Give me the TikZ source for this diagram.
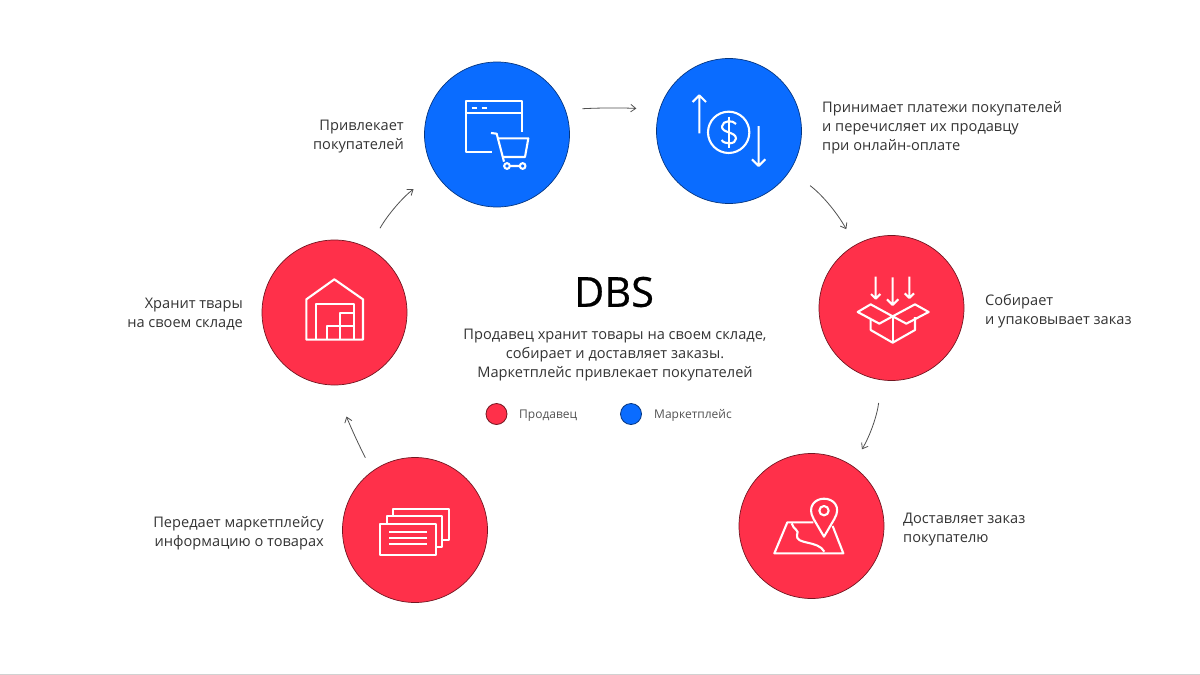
\documentclass[tikz,border=0pt]{standalone}
\usepackage{fontspec}
\setmainfont{Open Sans}
\usepackage{tikz}
\usetikzlibrary{arrows.meta, positioning, calc}
\definecolor{mRed}{HTML}{FF304A}
\definecolor{mBlue}{HTML}{0A6CFF}
\definecolor{mInk}{HTML}{333333}
\definecolor{mFlow}{HTML}{505050}
\begin{document}
\begin{tikzpicture}[x=1pt, y=-1pt, >={Straight Barb[length=5pt,width=7.5pt]},
      stage/.style={circle, minimum size=145pt, inner sep=0pt, draw=black!55!mRed, line width=0.7pt, fill=mRed},
      netstage/.style={stage, draw=black!50!mBlue, fill=mBlue},
      dot/.style={circle, minimum size=21pt, inner sep=0pt, draw=black!55!mRed, line width=0.8pt, fill=mRed},
      netdot/.style={dot, draw=black!50!mBlue, fill=mBlue},
      icon/.style={draw=white, line width=2.1pt, line join=round},
      flow/.style={->, draw=mFlow, line width=0.8pt},
      lbl/.style={text=mInk, font=\fontsize{14.6}{19}\selectfont, inner sep=0pt},
      key/.style={text=mInk!85, font=\fontsize{12}{15}\selectfont, inner sep=0pt, anchor=west}]
    \useasboundingbox (0,0) rectangle (1200,675);
    \fill[black!18] (0,674) rectangle (1200,675);
    % stages
    \node[netstage] (buy) at (497,134.5) {};
    \node[netstage] (pay) at (729,131) {};
    \node[stage] (pack) at (891.5,308) {};
    \node[stage] (ship) at (811.5,526) {};
    \node[stage] (info) at (415,530) {};
    \node[stage] (store) at (334.5,312.5) {};
    % connectors
    \draw[flow, shorten <=17pt, shorten >=23pt] (buy.20) to[bend left=3] (pay.163);
    \draw[flow, shorten <=25pt, shorten >=18pt] (pay.-33) to[bend left=12] (pack.120);
    \draw[flow, shorten <=23pt, shorten >=19pt] (pack.-98) to[bend left=12] (ship.56);
    \draw[flow, shorten <=15pt, shorten >=33pt] (info.126) to[bend left=4] (store.-89);
    \draw[flow, shorten <=23pt, shorten >=27pt] (store.62) to[bend left=12] (buy.-148);
    % labels
    \node[lbl, align=right, anchor=east] (buyText) at (404,137) {Привлекает\\покупателей};
    \node[lbl, align=left, anchor=west] (payText) at (822,128) {Принимает платежи покупателей\\и перечисляет их продавцу\\при онлайн-оплате};
    \node[lbl, align=left, anchor=west] (packText) at (985,311) {Собирает\\и упаковывает заказ};
    \node[lbl, align=left, anchor=west] (shipText) at (903,530) {Доставляет заказ\\покупателю};
    \node[lbl, align=right, anchor=east] (infoText) at (324,533) {Передает маркетплейсу\\информацию о товарах};
    \node[lbl, align=right, anchor=east] (storeText) at (243,314) {Хранит твары\\на своем складе};
    % centre
    \node[text=black, font=\fontsize{41.5}{44}\selectfont\addfontfeature{FakeBold=0.5}, inner sep=0pt] (title) at (614,292) {DBS};
    \node[lbl, align=center] (about) at (615,355) {Продавец хранит товары на своем складе,\\собирает и доставляет заказы.\\Маркетплейс привлекает покупателей};
    \node[dot] (sellerDot) at (496.5,414) {};
    \node[key] (sellerKey) at (519,415.5) {Продавец};
    \node[netdot] (marketDot) at (631,414) {};
    \node[key] (marketKey) at (654,415.5) {Маркетплейс};
    % window and cart
    \begin{scope}[shift={(420,60)}, scale=1/3]
      \draw[icon] (305,215) -- (305,123) -- (137,123) -- (137,275) -- (215,275);
      \draw[icon] (137,160) -- (305,160);
      \draw[icon] (155,143) -- (170,143) (185,143) -- (200,143);
      \draw[icon] (213,219) -- (230,221) -- (252,305);
      \draw[icon] (234,235) -- (325,235) -- (315,291) -- (248,291);
      \draw[icon] (261,318) circle (8.5) (308,318) circle (8.5) (270,318) -- (299,318);
    \end{scope}
    % money
    \begin{scope}[shift={(650,60)}, scale=1/3]
      \draw[icon] (148,220) -- (148,106) (128,126) -- (148,106) -- (168,126);
      \draw[icon] (236,217) circle (62);
      \draw[icon] (236,170) -- (236,264);
      \draw[icon] (258,192) .. controls (250,180) and (218,180) .. (216,199) .. controls (214,220) and (258,214) .. (258,236) .. controls (258,254) and (222,254) .. (215,240);
      \draw[icon] (326,198) -- (326,318) (306,298) -- (326,318) -- (346,298);
    \end{scope}
    % box
    \begin{scope}[shift={(815,232)}, scale=1/3]
      \draw[icon] (182,134) -- (182,200) (168,186) -- (182,200) -- (196,186);
      \draw[icon] (233,136) -- (233,219) (216,202) -- (233,219) -- (250,202);
      \draw[icon] (283,134) -- (283,198) (269,184) -- (283,198) -- (297,184);
      \draw[icon] (128,240) -- (167,217) -- (233,253) -- (300,217) -- (341,240) -- (274,275) -- (233,253) -- (193,275) -- cycle;
      \draw[icon] (167,262) -- (167,294) -- (233,332) -- (300,294) -- (300,255);
      \draw[icon] (233,253) -- (233,332);
    \end{scope}
    % map
    \begin{scope}[shift={(735,450)}, scale=1/3]
      \draw[icon] (235,217) -- (157,217) -- (118,310) -- (325,310) -- (293,228);
      \draw[icon] (170,220) .. controls (175,240) and (195,240) .. (186,255) .. controls (180,285) and (250,270) .. (268,305);
      \draw[icon] (267,260) -- (236,207) .. controls (215,170) and (240,146) .. (267,146) .. controls (295,146) and (320,170) .. (298,207) -- cycle;
      \draw[icon] (267,182) circle (14);
    \end{scope}
    % cards
    \begin{scope}[shift={(340,455)}, scale=1/3]
      \draw[icon] (119,207) rectangle (287,299);
      \draw[icon] (140,207) -- (140,184) -- (307,184) -- (307,276) -- (287,276);
      \draw[icon] (159,184) -- (159,163) -- (327,163) -- (327,255) -- (307,255);
      \draw[icon] (148,230) -- (262,230) (148,249) -- (262,249) (148,268) -- (262,268);
    \end{scope}
    % warehouse
    \begin{scope}[shift={(258,238)}, scale=1/3]
      \draw[icon] (145,305) -- (145,184) -- (229,124) -- (315,184) -- (315,305) -- cycle;
      \draw[icon] (174,305) -- (174,198) -- (288,198) -- (288,305);
      \draw[icon] (206,305) -- (206,265) -- (246,265) -- (246,305);
      \draw[icon] (206,265) -- (288,265);
      \draw[icon] (246,265) -- (246,225) -- (288,225);
    \end{scope}
  \end{tikzpicture}
\end{document}
